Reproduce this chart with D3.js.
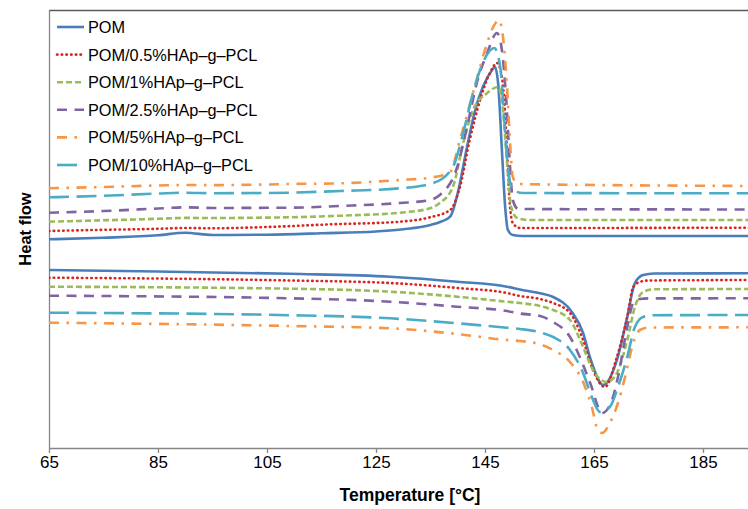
<!DOCTYPE html>
<html>
<head>
<meta charset="utf-8">
<script src="https://cdn.jsdelivr.net/npm/d3@7/dist/d3.min.js"></script>
<style>
  html, body { margin: 0; padding: 0; background: #fff; }
  svg { display: block; font-family: "Liberation Sans", Arial, sans-serif; }
</style>
</head>
<body>
<svg id="chart" width="748" height="509"></svg>
<script>
// DSC curves: heat flow (a.u.) vs temperature (°C).
// Cooling scans (exotherm, upper group) and heating scans (endotherm, lower group).

const seriesNames = [
  "POM",
  "POM/0.5%HAp\u2013g\u2013PCL",
  "POM/1%HAp\u2013g\u2013PCL",
  "POM/2.5%HAp\u2013g\u2013PCL",
  "POM/5%HAp\u2013g\u2013PCL",
  "POM/10%HAp\u2013g\u2013PCL"
];

const xTicks = [65, 85, 105, 125, 145, 165, 185];

// cooling scans [T, heat flow]
const coolPOM = [[65,20.87],[75,21.02],[85,21.27],[90,21.53],[95,21.30],[105,21.33],[115,21.47],[125,21.65],[130,21.87],[135,22.30],[137,22.65],[138.6,23.13],[140,25.50],[141.7,30.10],[143.2,33.80],[144.6,36.10],[146.3,37.80],[146.8,38.13],[147.4,36.50],[148.1,29.80],[148.7,24.10],[149.2,21.80],[150.1,21.30],[152,21.20],[195,21.20]];
const coolP05 = [[65,21.70],[75,21.82],[85,21.92],[90,22.00],[95,21.97],[105,22.10],[118.4,22.40],[125,22.50],[129.4,22.63],[134.9,23.07],[138.6,23.80],[140.4,26.10],[142.2,30.80],[144.1,34.80],[145.9,37.50],[147.2,38.50],[148.1,37.10],[148.9,31.50],[149.4,25.50],[150.1,22.50],[151.4,22.00],[195,22.03]];
const coolP1 = [[65,22.63],[75,22.77],[85,22.92],[90,23.01],[95,23.00],[105,23.04],[109.2,23.07],[118.4,23.23],[129.4,23.53],[134.9,23.97],[136.7,24.50],[139.1,26.10],[141.0,30.50],[142.8,33.80],[145.4,35.50],[147.4,36.10],[148.3,33.80],[149.0,28.80],[149.8,24.10],[150.9,23.00],[153,22.80],[195,22.80]];
const coolP25 = [[65,23.53],[75,23.70],[85,23.95],[90,24.07],[95,24.00],[105,24.02],[109.2,24.03],[118.4,24.20],[129.4,24.50],[134.9,24.80],[136.7,25.30],[139.9,28.10],[141.7,32.10],[143.5,36.50],[145.4,39.50],[147.2,41.50],[148.1,39.80],[148.9,34.80],[149.6,28.10],[150.1,24.80],[151.1,23.90],[195,23.85]];
const coolP5 = [[65,25.97],[75,26.10],[85,26.25],[90,26.30],[95,26.29],[105,26.35],[109.2,26.40],[118.4,26.47],[129.4,26.80],[134.9,27.03],[138.6,27.60],[140.4,30.80],[142.8,35.50],[145.0,39.80],[146.5,42.10],[147.6,42.80],[148.3,41.10],[149.0,36.50],[149.6,30.50],[150.1,27.10],[151,26.40],[195,26.20]];
const coolP10 = [[65,25.07],[75,25.22],[85,25.45],[90,25.53],[95,25.48],[105,25.50],[109.2,25.53],[118.4,25.70],[129.4,25.97],[135.5,26.50],[139.1,28.10],[141.0,31.50],[142.8,35.50],[144.6,38.50],[146.7,40.00],[147.8,38.10],[148.5,33.10],[149.2,28.10],[150.1,25.80],[152,25.50],[195,25.47]];

// heating scans [T, heat flow]
const heatPOM = [[65,17.80],[85,17.65],[109.2,17.42],[127.6,17.13],[139.9,16.63],[149.0,16.13],[151.4,15.85],[155.1,15.47],[157.5,15.10],[160.9,13.63],[163.0,11.50],[164.3,9.00],[166.7,6.30],[169.2,8.80],[171.1,13.10],[172.5,16.50],[174.0,17.30],[176,17.45],[195,17.47]];
const heatP05 = [[65,17.03],[109.2,16.75],[127.6,16.50],[139.9,16.00],[149,15.50],[151.4,15.20],[155.1,14.90],[157.5,14.50],[160.6,13.50],[163.0,10.80],[164.6,8.10],[167.0,6.10],[169.2,9.10],[171.1,13.10],[172.2,16.10],[173.4,16.60],[175,16.75],[195,16.80]];
const heatP1 = [[65,16.13],[109.2,15.93],[127.6,15.63],[139.9,15.13],[149,14.63],[151.4,14.50],[155.1,14.20],[157.5,13.80],[160.6,12.80],[163.0,10.10],[164.8,7.80],[167.4,6.60],[169.2,7.50],[171.1,10.80],[172.5,14.10],[174.0,15.60],[176,15.87],[195,15.90]];
const heatP25 = [[65,15.23],[109.2,14.97],[127.6,14.63],[139.9,14.13],[149,13.70],[151.4,13.45],[155.1,13.20],[157.5,12.60],[160.6,11.10],[162.4,9.10],[164.3,6.50],[166.5,3.50],[168.3,4.80],[169.4,7.10],[171.1,12.10],[172.2,14.50],[173.4,14.90],[175,14.96],[195,14.97]];
const heatP5 = [[65,12.53],[109.2,12.20],[127.6,11.97],[139.9,11.40],[149,10.80],[151.4,10.70],[155.1,10.37],[157.5,9.80],[160.6,8.60],[163.0,6.60],[164.6,4.10],[165.7,1.80],[166.5,1.50],[167.9,2.50],[169.4,4.50],[170.7,7.10],[172.2,10.50],[173.4,11.80],[175,12.05],[195,12.07]];
const heatP10 = [[65,13.53],[109.2,13.28],[127.6,12.97],[139.9,12.47],[149,12.03],[151.4,11.90],[155.1,11.57],[157.5,11.10],[160.6,9.80],[163.0,7.50],[164.6,5.10],[166.1,3.60],[167.9,4.10],[169.4,6.10],[171.1,9.10],[172.5,12.10],[174.0,13.10],[176,13.28],[195,13.30]];

const coolingScans = [coolPOM, coolP05, coolP1, coolP25, coolP5, coolP10];
const heatingScans = [heatPOM, heatP05, heatP1, heatP25, heatP5, heatP10];

// line appearance per sample
const colors = ["#4a7ebb", "#d9241f", "#9bbb59", "#8064a2", "#f79646", "#4bacc6"];
const dashes = ["none", "0.5,4.2", "6,3", "10,7.5", "10,7.5,2.5,7.5", "20,7.5"];
const caps = ["butt", "round", "butt", "butt", "butt", "butt"];

const svg = d3.select("#chart");
const plotLeft = 49, plotRight = 748, plotTop = 10, plotBottom = 448;

const x = d3.scaleLinear().domain([65, 185]).range([plotLeft, 703]);
const y = d3.scaleLinear().domain([0, 43.8]).range([plotBottom, plotTop]);

svg.append("defs").append("clipPath").attr("id", "plotClip")
  .append("rect").attr("x", plotLeft).attr("y", plotTop - 2)
  .attr("width", plotRight - plotLeft).attr("height", plotBottom - plotTop + 2);

// frame: top edge, left axis
svg.append("line").attr("x1", plotLeft).attr("x2", plotRight).attr("y1", plotTop + 0.5).attr("y2", plotTop + 0.5)
  .attr("stroke", "#595959").attr("stroke-width", 1.3);
svg.append("line").attr("x1", plotLeft + 0.5).attr("x2", plotLeft + 0.5).attr("y1", plotTop).attr("y2", plotBottom)
  .attr("stroke", "#868686").attr("stroke-width", 1.3);

const line = d3.line()
  .x(d => x(d[0]))
  .y(d => y(d[1]))
  .curve(d3.curveMonotoneX);

const plot = svg.append("g").attr("clip-path", "url(#plotClip)");
seriesNames.forEach((name, i) => {
  [coolingScans[i], heatingScans[i]].forEach(scan => {
    plot.append("path")
      .datum(scan)
      .attr("d", line)
      .attr("fill", "none")
      .attr("stroke", colors[i])
      .attr("stroke-width", 2.6)
      .attr("stroke-dasharray", dashes[i])
      .attr("stroke-linecap", caps[i])
      .attr("stroke-linejoin", "round");
  });
});

// bottom axis
const xAxis = d3.axisBottom(x).tickValues(xTicks).tickSize(5).tickPadding(3).tickSizeOuter(0);
const gx = svg.append("g").attr("transform", `translate(0,${plotBottom})`).call(xAxis);
gx.select(".domain").attr("d", `M${plotLeft},0.5H${plotRight}`).attr("stroke", "#868686").attr("stroke-width", 1.3);
gx.selectAll(".tick line").attr("stroke", "#868686").attr("stroke-width", 1.3);
gx.selectAll(".tick text").attr("font-size", 17).attr("fill", "#000")
  .attr("font-family", "'Liberation Sans', Arial, sans-serif");

// axis titles
svg.append("text").attr("x", 410).attr("y", 501).attr("text-anchor", "middle")
  .attr("font-size", 17.5).attr("font-weight", "bold").attr("fill", "#000")
  .text("Temperature [°C]");
svg.append("text").attr("transform", "translate(31,229) rotate(-90)").attr("text-anchor", "middle")
  .attr("font-size", 16.5).attr("font-weight", "bold").attr("fill", "#000")
  .text("Heat flow");

// legend
const legend = svg.append("g");
seriesNames.forEach((name, i) => {
  const ly = 27 + i * 27.6;
  legend.append("line").attr("x1", 57).attr("x2", 84).attr("y1", ly).attr("y2", ly)
    .attr("stroke", colors[i]).attr("stroke-width", 2.6)
    .attr("stroke-dasharray", dashes[i]).attr("stroke-linecap", caps[i]);
  legend.append("text").attr("x", 88).attr("y", ly + 6)
    .attr("font-size", 16.3).attr("fill", "#000").text(name);
});
</script>
</body>
</html>
